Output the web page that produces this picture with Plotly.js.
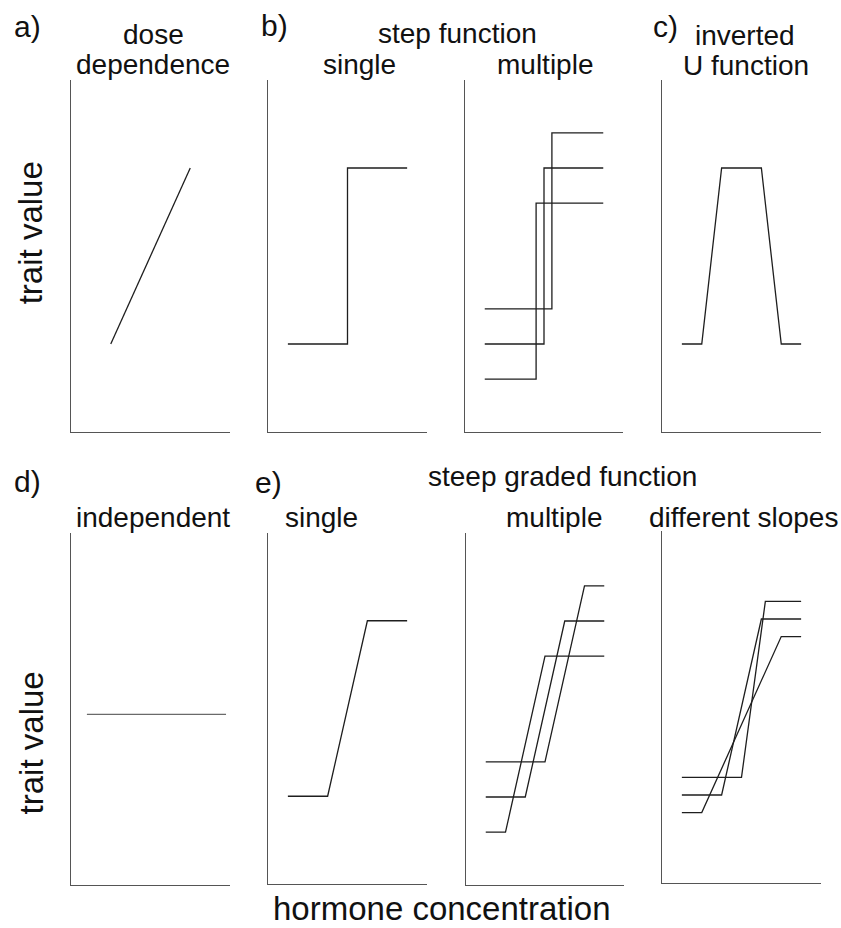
<!DOCTYPE html>
<html>
<head>
<meta charset="utf-8">
<script src="https://cdn.plot.ly/plotly-3.0.1.min.js"></script>
<style>html,body{margin:0;padding:0;background:#fff;}#chart{width:841px;height:928px;}</style>
</head>
<body>
<div id="chart"></div>
<script>
// ---------- data (x = hormone concentration, y = trait value; arbitrary 0-10 units) ----------
const doseX = [2.5, 7.5];
const doseY = [2.5, 7.5];

const stepSingleX = [1.25, 5, 5, 8.75];
const stepSingleY = [2.5, 2.5, 7.5, 7.5];

const stepMultiX = [[1.25, 4.5, 4.5, 8.75], [1.25, 5, 5, 8.75], [1.25, 5.5, 5.5, 8.75]];
const stepMultiY = [[1.5, 1.5, 6.5, 6.5], [2.5, 2.5, 7.5, 7.5], [3.5, 3.5, 8.5, 8.5]];

const invUX = [1.25, 2.5, 3.75, 6.25, 7.5, 8.75];
const invUY = [2.5, 2.5, 7.5, 7.5, 2.5, 2.5];

const indepX = [1, 9.75];
const indepY = [4.85, 4.85];

const gradedSingleX = [1.25, 3.75, 6.25, 8.75];
const gradedSingleY = [2.5, 2.5, 7.5, 7.5];

const gradedMultiX = [[1.25, 2.5, 5, 8.75], [1.25, 3.75, 6.25, 8.75], [1.25, 5, 7.5, 8.75]];
const gradedMultiY = [[1.5, 1.5, 6.5, 6.5], [2.5, 2.5, 7.5, 7.5], [3.5, 3.5, 8.5, 8.5]];

const slopesX = [[1.25, 5, 6.5, 8.75], [1.25, 3.75, 6.25, 8.75], [1.25, 2.5, 7.5, 8.75]];
const slopesY = [[3, 3, 8, 8], [2.5, 2.5, 7.5, 7.5], [2, 2, 7, 7]];

const panelLetters = ['a)', 'b)', 'c)', 'd)', 'e)'];
const yTitle = 'trait value';
const xTitle = 'hormone concentration';

// ---------- layout helpers ----------
const W = 841, H = 928;
const px = v => v / W;
const py = v => 1 - v / H;

// panel boxes in pixels: [left, right, top, bottom]
const boxes = [
  [71, 230, 80, 432],
  [268, 427, 80, 432],
  [465, 623, 80, 432],
  [662, 821, 80, 432],
  [71, 230, 533, 885],
  [268, 427, 533, 884],
  [466, 624, 533, 885],
  [662, 821, 531, 883]
];

const lineColor = '#1e1e1e';
const traces = [];
function add(panel, xs, ys, color, width) {
  const s = panel === 0 ? '' : String(panel + 1);
  traces.push({
    x: xs, y: ys, xaxis: 'x' + s, yaxis: 'y' + s,
    mode: 'lines', line: {color: color || lineColor, width: width || 1.3},
    hoverinfo: 'skip', showlegend: false
  });
}
add(0, doseX, doseY);
add(1, stepSingleX, stepSingleY);
stepMultiX.forEach((xs, i) => add(2, xs, stepMultiY[i]));
add(3, invUX, invUY);
add(4, indepX, indepY, '#6a6a6a', 1.2);
add(5, gradedSingleX, gradedSingleY);
gradedMultiX.forEach((xs, i) => add(6, xs, gradedMultiY[i]));
slopesX.forEach((xs, i) => add(7, xs, slopesY[i]));

const layout = {
  width: W, height: H,
  margin: {l: 0, r: 0, t: 0, b: 0},
  paper_bgcolor: '#fff', plot_bgcolor: '#fff',
  showlegend: false,
  font: {family: 'Liberation Sans, Arial, sans-serif', color: '#111'},
  annotations: []
};
boxes.forEach((b, i) => {
  const s = i === 0 ? '' : String(i + 1);
  const common = {
    showgrid: false, zeroline: false, showticklabels: false, ticks: '',
    showline: true, linecolor: '#555', linewidth: 1.4, range: [0, 10], fixedrange: true
  };
  layout['xaxis' + s] = Object.assign({}, common, {domain: [px(b[0]), px(b[1])], anchor: 'y' + s});
  layout['yaxis' + s] = Object.assign({}, common, {domain: [py(b[3]), py(b[2])], anchor: 'x' + s});
});

function txt(text, x, yc, size, extra) {
  layout.annotations.push(Object.assign({
    text: text, x: px(x), y: py(yc), xref: 'paper', yref: 'paper',
    xanchor: 'center', yanchor: 'middle', showarrow: false,
    font: {size: size, family: 'Liberation Sans, Arial, sans-serif', color: '#111'}
  }, extra || {}));
}
// panel letters
txt(panelLetters[0], 27, 26.5, 30);
txt(panelLetters[1], 274, 25.5, 30);
txt(panelLetters[2], 665, 27, 30);
txt(panelLetters[3], 27, 481.5, 30);
txt(panelLetters[4], 268, 482, 30);
// panel titles
txt('dose', 153, 34.3, 28);
txt('dependence', 153, 64.3, 28);
txt('step function', 457, 33.5, 28);
txt('single', 359, 64.3, 28);
txt('multiple', 545, 64.3, 28);
txt('inverted', 745, 35.2, 28);
txt('U function', 745.5, 65.2, 28);
txt('steep graded function', 562.5, 477, 28);
txt('independent', 153, 517.3, 28);
txt('single', 321.7, 517.3, 28);
txt('multiple', 554, 517.3, 28);
txt('different slopes', 743.3, 517.3, 28);
// axis titles
txt(yTitle, 30.3, 233, 33, {textangle: -90});
txt(yTitle, 31.9, 742.5, 33, {textangle: -90});
txt(xTitle, 441.7, 908.5, 33);

Plotly.newPlot('chart', traces, layout, {staticPlot: true, displayModeBar: false});
</script>
</body>
</html>
